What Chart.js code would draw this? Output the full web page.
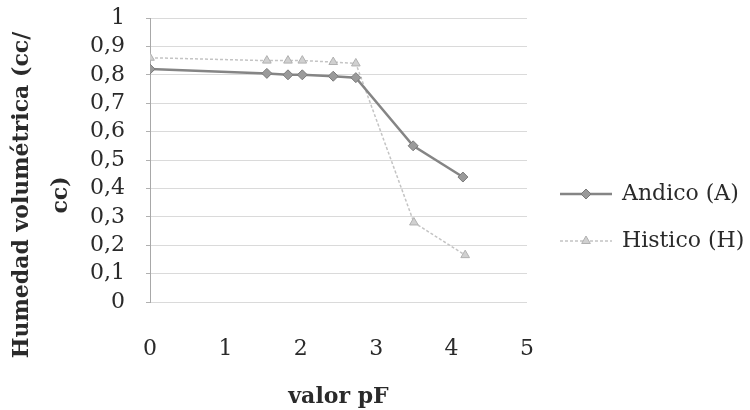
<!DOCTYPE html>
<html>
<head>
<meta charset="utf-8">
<script src="https://cdn.jsdelivr.net/npm/chart.js@4.4.1/dist/chart.umd.min.js"></script>
<style>
  html, body { margin: 0; padding: 0; background: #fff; }
</style>
</head>
<body>
<canvas id="chart" width="750" height="410"></canvas>
<script>
// data
const seriesNames = ["Andico (A)", "Histico (H)"];
const andicoX = [0, 1.55, 1.83, 2.02, 2.43, 2.73, 3.49, 4.15];
const andicoY = [0.82, 0.805, 0.8, 0.8, 0.795, 0.79, 0.55, 0.44];
const histicoX = [0, 1.55, 1.83, 2.02, 2.43, 2.73, 3.5, 4.18];
const histicoY = [0.86, 0.85, 0.85, 0.85, 0.845, 0.84, 0.28, 0.165];
const xTicks = [0, 1, 2, 3, 4, 5];
const yTicks = [0, 0.1, 0.2, 0.3, 0.4, 0.5, 0.6, 0.7, 0.8, 0.9, 1];
const xTitle = "valor pF";
const yTitleLines = ["Humedad volumétrica (cc/", "cc)"];

const toPoints = (xs, ys) => xs.map((x, i) => ({ x: x, y: ys[i] }));
const serif = "'DejaVu Serif', 'Liberation Serif', serif";
const textColor = "#2a2a2a";

// y title in two rotated lines, legend with line + marker on the right
const decorations = {
  id: "decorations",
  afterDraw(chart) {
    const ctx = chart.ctx;
    ctx.save();
    ctx.fillStyle = textColor;
    ctx.font = "bold 22px " + serif;
    ctx.textAlign = "center";
    ctx.textBaseline = "middle";
    const xs = [22, 61];
    yTitleLines.forEach((line, i) => {
      ctx.save();
      ctx.translate(xs[i], 195);
      ctx.rotate(-Math.PI / 2);
      ctx.fillText(line, 0, 0);
      ctx.restore();
    });

    const rows = [194, 241];
    chart.data.datasets.forEach((ds, i) => {
      const y = rows[i];
      ctx.save();
      ctx.strokeStyle = ds.borderColor;
      ctx.lineWidth = ds.borderWidth;
      ctx.setLineDash(ds.borderDash || []);
      ctx.beginPath();
      ctx.moveTo(560, y);
      ctx.lineTo(612, y);
      ctx.stroke();
      ctx.setLineDash([]);
      ctx.fillStyle = ds.pointBackgroundColor;
      ctx.strokeStyle = ds.pointBorderColor;
      ctx.lineWidth = 1;
      Chart.helpers.drawPoint(ctx, {
        pointStyle: ds.pointStyle,
        radius: ds.pointRadius,
        rotation: 0,
        borderWidth: 1
      }, 586, y);
      ctx.restore();
      ctx.fillStyle = textColor;
      ctx.font = "22px " + serif;
      ctx.textAlign = "left";
      ctx.textBaseline = "middle";
      ctx.fillText(ds.label, 622, y);
    });
    ctx.restore();
  }
};

new Chart(document.getElementById("chart"), {
  type: "scatter",
  data: {
    datasets: [
      {
        label: seriesNames[0],
        data: toPoints(andicoX, andicoY),
        showLine: true,
        borderColor: "#858585",
        borderWidth: 2.5,
        pointStyle: "rectRot",
        pointRadius: 5,
        pointBackgroundColor: "#9a9a9a",
        pointBorderColor: "#7a7a7a",
        pointBorderWidth: 1
      },
      {
        label: seriesNames[1],
        data: toPoints(histicoX, histicoY),
        showLine: true,
        borderColor: "#c4c4c4",
        borderWidth: 1.5,
        borderDash: [3, 2],
        pointStyle: "triangle",
        pointRadius: 5,
        pointBackgroundColor: "#d0d0d0",
        pointBorderColor: "#b0b0b0",
        pointBorderWidth: 1
      }
    ]
  },
  options: {
    responsive: false,
    animation: false,
    layout: { padding: { left: 0, right: 223, top: 18, bottom: 0 } },
    plugins: {
      legend: { display: false },
      tooltip: { enabled: false }
    },
    scales: {
      x: {
        type: "linear",
        min: 0,
        max: 5,
        afterBuildTicks: (scale) => {
          scale.ticks = xTicks.map((v) => ({ value: v }));
        },
        afterFit: (scale) => {
          scale.height = 108;
          scale.paddingLeft = 0;
          scale.paddingRight = 0;
        },
        grid: { display: false, drawTicks: false },
        border: { display: false },
        ticks: {
          autoSkip: false,
          maxRotation: 0,
          padding: 34,
          color: textColor,
          font: { family: serif, size: 22 }
        },
        title: {
          display: true,
          text: xTitle,
          color: textColor,
          font: { family: serif, size: 22, weight: "bold" },
          padding: { top: 0, bottom: 0 }
        }
      },
      y: {
        min: 0,
        max: 1,
        afterBuildTicks: (scale) => {
          scale.ticks = yTicks.map((v) => ({ value: v }));
        },
        afterFit: (scale) => {
          scale.width = 150;
          scale.paddingTop = 0;
          scale.paddingBottom = 0;
        },
        grid: {
          color: "#dadada",
          lineWidth: 1,
          tickLength: 4,
          tickColor: "#b0b0b0"
        },
        border: { display: true, color: "#a8a8a8", width: 1 },
        ticks: {
          autoSkip: false,
          padding: 21,
          color: textColor,
          font: { family: serif, size: 22 },
          callback: (v) => (Math.round(v * 10) / 10).toString().replace(".", ",")
        }
      }
    }
  },
  plugins: [decorations]
});
</script>
</body>
</html>
